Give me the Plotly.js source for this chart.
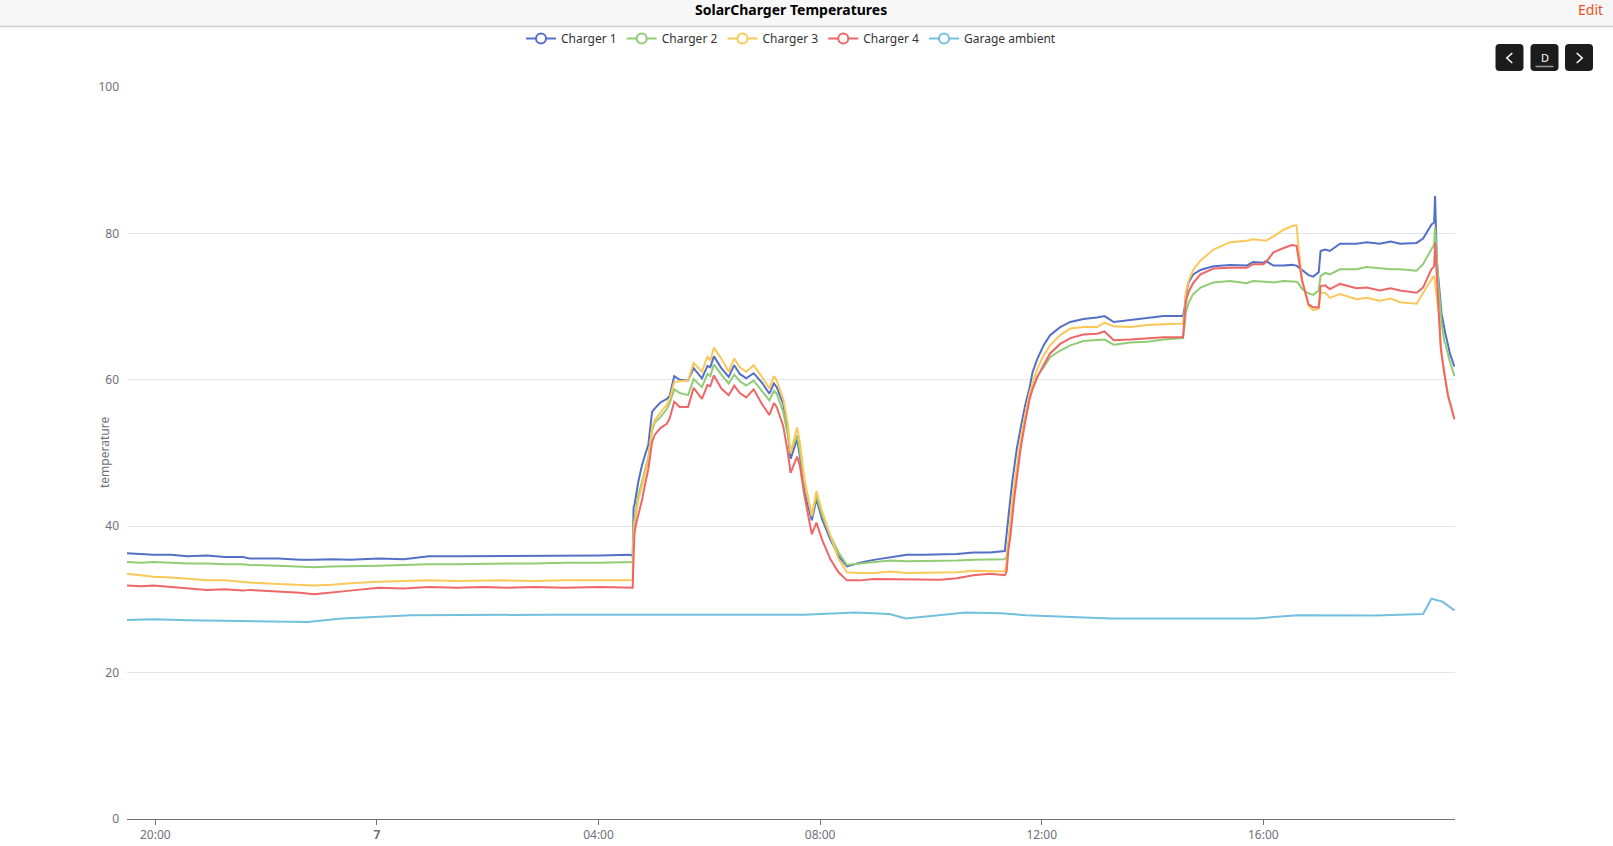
<!DOCTYPE html>
<html>
<head>
<meta charset="utf-8">
<script src="https://cdn.plot.ly/plotly-3.0.1.min.js"></script>
<style>
html,body{margin:0;padding:0;background:#fff;}
#chart{width:1613px;height:846px;}
</style>
</head>
<body>
<div id="chart"></div>
<script>
// ---------------- DATA ----------------
const chartTitle = "SolarCharger Temperatures";
const seriesNames = ["Charger 1", "Charger 2", "Charger 3", "Charger 4", "Garage ambient"];
const seriesColors = ["#5470c6", "#91cc75", "#fac858", "#ee6666", "#73c0de"];
const yAxisName = "temperature";

const times = [
"2023-05-06 19:29","2023-05-06 19:45","2023-05-06 19:58","2023-05-06 20:17","2023-05-06 20:35","2023-05-06 20:56",
"2023-05-06 21:15","2023-05-06 21:35","2023-05-06 21:42","2023-05-06 22:13","2023-05-06 22:37","2023-05-06 22:52",
"2023-05-06 23:11","2023-05-06 23:31","2023-05-07 00:02","2023-05-07 00:29","2023-05-07 00:56","2023-05-07 01:27",
"2023-05-07 01:55","2023-05-07 02:21","2023-05-07 02:50","2023-05-07 03:23","2023-05-07 04:02","2023-05-07 04:33",
"2023-05-07 04:37","2023-05-07 04:38","2023-05-07 04:39","2023-05-07 04:41","2023-05-07 04:43","2023-05-07 04:47",
"2023-05-07 04:50","2023-05-07 04:54","2023-05-07 04:58","2023-05-07 05:01","2023-05-07 05:07","2023-05-07 05:14",
"2023-05-07 05:17","2023-05-07 05:22","2023-05-07 05:28","2023-05-07 05:37","2023-05-07 05:43","2023-05-07 05:52",
"2023-05-07 05:58","2023-05-07 06:01","2023-05-07 06:05","2023-05-07 06:13","2023-05-07 06:21","2023-05-07 06:27",
"2023-05-07 06:33","2023-05-07 06:40","2023-05-07 06:48","2023-05-07 06:57","2023-05-07 07:05","2023-05-07 07:10",
"2023-05-07 07:13","2023-05-07 07:20","2023-05-07 07:25","2023-05-07 07:28","2023-05-07 07:35","2023-05-07 07:38",
"2023-05-07 07:43","2023-05-07 07:51","2023-05-07 07:56","2023-05-07 08:02","2023-05-07 08:11","2023-05-07 08:20",
"2023-05-07 08:29","2023-05-07 08:43","2023-05-07 08:58","2023-05-07 09:16","2023-05-07 09:34","2023-05-07 09:52",
"2023-05-07 10:10","2023-05-07 10:28","2023-05-07 10:46","2023-05-07 11:04","2023-05-07 11:20","2023-05-07 11:22",
"2023-05-07 11:24","2023-05-07 11:26","2023-05-07 11:28","2023-05-07 11:30","2023-05-07 11:33","2023-05-07 11:37",
"2023-05-07 11:42","2023-05-07 11:47","2023-05-07 11:50","2023-05-07 11:55","2023-05-07 12:02","2023-05-07 12:09",
"2023-05-07 12:20","2023-05-07 12:31","2023-05-07 12:45","2023-05-07 13:00","2023-05-07 13:08","2023-05-07 13:18",
"2023-05-07 13:36","2023-05-07 13:54","2023-05-07 14:12","2023-05-07 14:33","2023-05-07 14:35","2023-05-07 14:36",
"2023-05-07 14:39","2023-05-07 14:44","2023-05-07 14:52","2023-05-07 15:00","2023-05-07 15:06","2023-05-07 15:24",
"2023-05-07 15:42","2023-05-07 15:49","2023-05-07 16:00","2023-05-07 16:03","2023-05-07 16:11","2023-05-07 16:22",
"2023-05-07 16:31","2023-05-07 16:36","2023-05-07 16:38","2023-05-07 16:42","2023-05-07 16:49","2023-05-07 16:54",
"2023-05-07 17:00","2023-05-07 17:02","2023-05-07 17:07","2023-05-07 17:12","2023-05-07 17:23","2023-05-07 17:41",
"2023-05-07 17:52","2023-05-07 18:06","2023-05-07 18:18","2023-05-07 18:28","2023-05-07 18:46","2023-05-07 18:53",
"2023-05-07 19:02","2023-05-07 19:05","2023-05-07 19:06","2023-05-07 19:08","2023-05-07 19:10","2023-05-07 19:12",
"2023-05-07 19:13","2023-05-07 19:16","2023-05-07 19:17","2023-05-07 19:20","2023-05-07 19:22","2023-05-07 19:27"
];

const charger1 = [
36.3,36.2,36.1,36.1,35.9,36.0, 35.8,35.8,35.6,35.6,35.4,35.4, 35.5,35.4,35.6,35.5,35.9,35.9,
35.9,36.0,36.0,36.0,36.0,36.1, 36.0,42.6,42.9,44.5,46.0,48.3, 49.6,51.2,55.6,56.1,56.9,57.4,
57.8,60.5,60.0,59.9,61.6,60.2, 61.9,61.7,63.2,61.6,60.4,62.0, 60.8,60.2,60.9,59.6,58.1,59.5,
59.0,56.7,52.8,49.2,51.9,49.6, 44.6,40.8,43.7,41.0,38.2,35.9, 34.5,35.0,35.4,35.8,36.1,36.1,
36.1,36.2,36.4,36.4,36.6,39.2, 42.0,43.7,46.0,47.8,50.6,53.3, 56.5,59.0,61.0,62.8,64.7,66.1,
67.2,67.9,68.3,68.5,68.7,67.9, 68.2,68.4,68.7,68.7,70.0,71.5, 73.3,74.4,75.0,75.3,75.5,75.7,
75.6,76.1,76.0,76.2,75.6,75.6, 75.7,75.6,75.4,75.1,74.3,74.1, 74.7,77.6,77.8,77.6,78.6,78.6,
78.8,78.6,78.9,78.6,78.7,79.3, 81.2,81.5,85.1,76.0,72.7,70.5, 69.1,66.8,66.4,64.8,63.6,61.8
];
const charger2 = [
35.1,35.0,35.1,35.0,34.9,34.9, 34.8,34.8,34.7,34.6,34.5,34.4, 34.5,34.5,34.6,34.7,34.8,34.8,
34.9,34.9,34.9,35.0,35.0,35.0, 35.1,40.5,41.0,42.6,44.2,46.0, 47.4,49.5,53.0,54.2,54.9,56.0,
56.8,58.7,58.2,57.9,60.1,59.0, 60.8,60.5,62.1,60.7,59.5,60.7, 59.8,59.2,59.9,58.5,57.2,58.5,
58.1,55.6,52.5,50.1,52.4,50.3, 46.0,41.4,44.2,41.6,38.7,36.4, 34.7,34.9,35.1,35.3,35.2,35.2,
35.3,35.3,35.4,35.5,35.5,35.8, 37.8,40.0,42.7,44.8,47.2,51.0, 54.7,57.7,58.7,60.5,61.7,63.1,
64.0,64.7,65.3,65.4,65.5,64.8, 65.1,65.2,65.5,65.7,67.5,69.2, 70.5,71.7,72.6,73.0,73.3,73.5,
73.2,73.5,73.4,73.4,73.3,73.5, 73.5,73.4,73.2,72.4,71.8,71.6, 72.2,74.2,74.6,74.4,75.1,75.1,
75.4,75.2,75.1,75.1,74.9,75.8, 77.8,78.5,80.8,76.4,72.3,69.5, 67.7,65.3,65.0,63.5,62.5,60.5
];
const charger3 = [
33.5,33.3,33.1,33.0,32.8,32.6, 32.6,32.4,32.3,32.1,32.0,31.9, 32.0,32.2,32.4,32.5,32.6,32.5,
32.6,32.6,32.5,32.6,32.6,32.6, 32.6,39.1,40.2,41.9,43.5,45.5, 47.0,49.0,53.5,54.5,55.5,56.6,
57.4,59.7,59.8,59.9,62.3,61.1, 63.2,62.6,64.4,62.9,61.1,62.9, 61.7,61.1,62.0,60.4,58.8,60.5,
59.9,57.4,54.0,49.9,53.5,51.5, 46.4,41.4,44.8,42.1,38.7,35.5, 33.7,33.6,33.6,33.8,33.6,33.6,
33.7,33.7,33.9,33.9,33.8,35.0, 38.3,40.5,43.5,45.5,48.3,51.7, 55.2,58.2,59.5,61.5,63.3,64.7,
66.1,67.0,67.2,67.2,67.8,67.3, 67.2,67.5,67.6,67.7,69.5,71.9, 73.5,75.0,76.3,77.1,77.8,78.8,
79.0,79.2,79.0,79.0,79.6,80.5, 81.0,81.1,78.3,73.7,70.1,69.5, 69.7,71.9,71.9,71.2,71.7,71.0,
71.2,70.8,71.1,70.6,70.4,71.9, 73.7,74.2,73.0,71.5,69.0,65.5, 63.8,60.8,60.3,58.0,57.0,54.6
];
const charger4 = [
31.9,31.8,31.9,31.7,31.6,31.3, 31.4,31.2,31.3,31.1,30.9,30.7, 30.9,31.2,31.6,31.5,31.7,31.6,
31.7,31.6,31.7,31.6,31.7,31.6, 31.6,36.0,39.1,40.5,41.4,43.5, 45.5,47.8,51.5,52.5,53.4,54.0,
54.7,57.0,56.3,56.3,58.9,57.4, 59.3,59.1,60.6,58.8,57.9,59.2, 58.2,57.6,58.7,56.7,55.2,56.8,
56.3,53.7,50.1,47.3,49.5,48.3, 44.2,38.9,40.5,38.2,35.5,33.7, 32.6,32.6,32.8,32.8,32.8,32.7,
32.7,32.9,33.3,33.5,33.3,33.8, 36.9,38.5,41.3,43.5,46.5,50.5, 54.2,57.4,58.7,60.3,62.0,63.6,
64.9,65.7,66.2,66.3,66.6,65.4, 65.5,65.7,65.8,65.8,68.5,70.6, 72.0,73.2,74.4,74.8,75.2,75.3,
75.3,75.8,75.8,76.1,77.4,78.0, 78.4,78.3,76.5,73.5,70.3,69.9, 69.9,72.8,72.9,72.4,73.1,72.5,
72.6,72.2,72.5,72.2,71.9,72.6, 75.1,75.5,78.7,73.7,69.2,64.6, 63.5,60.5,60.1,57.8,56.9,54.6
];

const ambientTimes = [
"2023-05-06 19:29","2023-05-06 19:59","2023-05-06 20:35","2023-05-06 21:40","2023-05-06 22:45","2023-05-06 23:22",
"2023-05-07 00:37","2023-05-07 03:04","2023-05-07 07:42","2023-05-07 08:38","2023-05-07 09:15","2023-05-07 09:33",
"2023-05-07 10:38","2023-05-07 11:15","2023-05-07 11:43","2023-05-07 13:15","2023-05-07 15:52","2023-05-07 16:38",
"2023-05-07 18:01","2023-05-07 18:53","2023-05-07 19:02","2023-05-07 19:14","2023-05-07 19:27"
];
const garageAmbient = [
27.2,27.3,27.15,27.05,26.9,27.4,
27.85,27.9,27.9,28.2,28.0,27.4,
28.2,28.1,27.85,27.4,27.4,27.85,
27.8,28.0,30.1,29.7,28.5
];

const xRange = ["2023-05-06 19:29:20", "2023-05-07 19:27:35"];
const xTickVals = ["2023-05-06 20:00","2023-05-07 00:00","2023-05-07 04:00","2023-05-07 08:00","2023-05-07 12:00","2023-05-07 16:00"];
const xTickText = ["20:00","<b>7</b>","04:00","08:00","12:00","16:00"];
const yTickVals = [0, 20, 40, 60, 80, 100];

// ---------------- LAYOUT HELPERS ----------------
const W = 1613, H = 846, ML = 127, MR = 158, MT = 87, MB = 27;
const PW = W - ML - MR, PH = H - MT - MB;
const px = p => (p - ML) / PW;
const py = p => (H - MB - p) / PH;
function P(x, y) { return px(x).toFixed(5) + "," + py(y).toFixed(5); }
function roundRect(x0, y0, x1, y1, r) {
  return "M" + P(x0 + r, y0) + " L" + P(x1 - r, y0) + " Q" + P(x1, y0) + " " + P(x1, y0 + r) +
         " L" + P(x1, y1 - r) + " Q" + P(x1, y1) + " " + P(x1 - r, y1) +
         " L" + P(x0 + r, y1) + " Q" + P(x0, y1) + " " + P(x0, y1 - r) +
         " L" + P(x0, y0 + r) + " Q" + P(x0, y0) + " " + P(x0 + r, y0) + " Z";
}
function polyline(pts) { return pts.map((p, i) => (i ? "L" : "M") + P(p[0], p[1])).join(" "); }

// ---------------- TRACES ----------------
const chargerData = [charger1, charger2, charger3, charger4];
const traces = [];
chargerData.forEach((vals, i) => {
  traces.push({
    type: "scatter", mode: "lines", x: times, y: vals, name: seriesNames[i],
    line: { color: seriesColors[i], width: 2 }, showlegend: false, hoverinfo: "skip", legendgroup: "g" + i
  });
});
traces.push({
  type: "scatter", mode: "lines", x: ambientTimes, y: garageAmbient, name: seriesNames[4],
  line: { color: seriesColors[4], width: 2 }, showlegend: false, hoverinfo: "skip", legendgroup: "g4"
});
seriesNames.forEach((n, i) => {
  traces.push({
    type: "scatter", mode: "lines+markers", x: [null], y: [null], name: n, legendgroup: "g" + i,
    line: { color: seriesColors[i], width: 2 },
    marker: { symbol: "circle", size: 10, color: "#ffffff", line: { color: seriesColors[i], width: 2 } },
    showlegend: true, hoverinfo: "skip"
  });
});

// ---------------- SHAPES / ANNOTATIONS ----------------
const shapes = [
  { type: "rect", xref: "paper", yref: "paper", x0: px(0), x1: px(W), y0: py(26), y1: py(0),
    fillcolor: "#f7f7f7", line: { width: 0 }, layer: "below" },
  { type: "line", xref: "paper", yref: "paper", x0: px(0), x1: px(W), y0: py(26.5), y1: py(26.5),
    line: { color: "#cfcfcf", width: 1.5 } },
  { type: "path", xref: "paper", yref: "paper", path: roundRect(1495.5, 44, 1523.5, 71, 4), fillcolor: "#1c1c1c", line: { width: 0 } },
  { type: "path", xref: "paper", yref: "paper", path: roundRect(1530.5, 44, 1558.5, 71, 4), fillcolor: "#1c1c1c", line: { width: 0 } },
  { type: "path", xref: "paper", yref: "paper", path: roundRect(1565, 44, 1593, 71, 4), fillcolor: "#1c1c1c", line: { width: 0 } },
  { type: "path", xref: "paper", yref: "paper", path: polyline([[1512.3, 53], [1506.8, 58], [1512.3, 63]]), line: { color: "#ffffff", width: 1.5 } },
  { type: "path", xref: "paper", yref: "paper", path: polyline([[1576.7, 53], [1582.2, 58], [1576.7, 63]]), line: { color: "#ffffff", width: 1.5 } },
  { type: "line", xref: "paper", yref: "paper", x0: px(1535.5), x1: px(1553.5), y0: py(66.5), y1: py(66.5), line: { color: "#9a9a9a", width: 1.5 } }
];

const annotations = [
  { xref: "paper", yref: "paper", x: 0.5, y: py(9.5), xanchor: "center", yanchor: "middle", showarrow: false,
    text: "<b>" + chartTitle + "</b>", font: { size: 14, color: "#000000" } },
  { xref: "paper", yref: "paper", x: px(1605), y: py(9.5), xanchor: "right", yanchor: "middle", showarrow: false,
    text: "Edit", font: { size: 14, color: "#ef5222" } },
  { xref: "paper", yref: "paper", x: px(1544.5), y: py(57.5), xanchor: "center", yanchor: "middle", showarrow: false,
    text: "D", font: { size: 11, color: "#ffffff" } },
  { xref: "paper", yref: "paper", x: px(104), y: py(453), xanchor: "center", yanchor: "middle", showarrow: false,
    text: yAxisName, textangle: -90, font: { size: 12, color: "#6e7079" } }
];

const layout = {
  width: W, height: H,
  margin: { l: ML, r: MR, t: MT, b: MB, pad: 0 },
  paper_bgcolor: "#ffffff", plot_bgcolor: "#ffffff",
  font: { family: "Noto Sans, sans-serif", size: 12, color: "#333333" },
  showlegend: true,
  legend: { orientation: "h", x: 0.5, xanchor: "center", y: py(38.5), yanchor: "middle",
            font: { size: 12, color: "#333333" }, bgcolor: "rgba(0,0,0,0)", itemwidth: 30, itemclick: false, itemdoubleclick: false },
  xaxis: {
    type: "date", range: xRange, tickmode: "array", tickvals: xTickVals, ticktext: xTickText,
    ticks: "outside", ticklen: 5, tickwidth: 1, tickcolor: "#6e7079",
    showline: true, linecolor: "#6e7079", linewidth: 1, showgrid: false, zeroline: false,
    tickfont: { size: 12, color: "#6e7079" }, fixedrange: true
  },
  yaxis: {
    range: [0, 100], tickmode: "array", tickvals: yTickVals, showline: false, zeroline: false,
    gridcolor: "#e0e6f1", gridwidth: 1, ticks: "", ticklabelstandoff: 7,
    tickfont: { size: 12, color: "#6e7079" }, fixedrange: true
  },
  shapes: shapes,
  annotations: annotations,
  hovermode: false
};

Plotly.newPlot("chart", traces, layout, { staticPlot: true, displayModeBar: false, responsive: false });
</script>
</body>
</html>
